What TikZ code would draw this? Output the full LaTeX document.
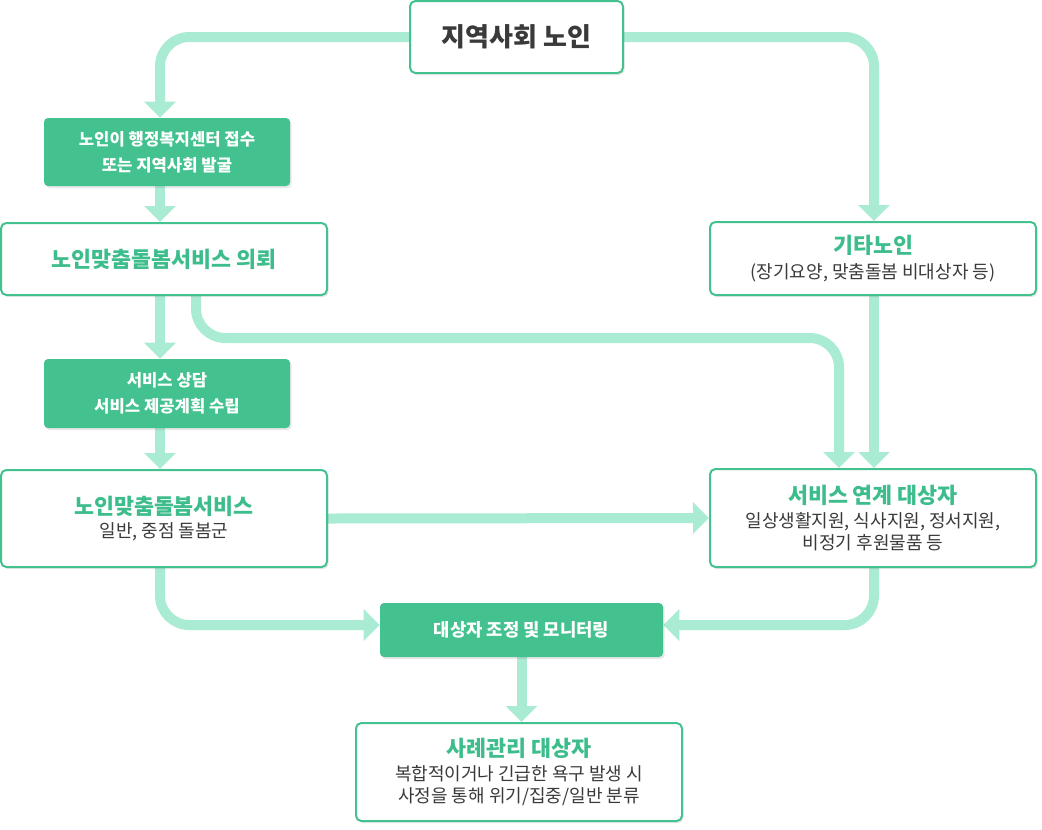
\documentclass[tikz,border=0pt]{standalone}
\usepackage{fontspec}
\setmainfont{Noto Sans CJK KR}
\usetikzlibrary{arrows.meta,shadows,backgrounds}

\definecolor{boxgreen}{HTML}{43C18F}
\definecolor{flowgreen}{HTML}{A9EBD3}
\definecolor{headgreen}{HTML}{3DBD8B}
\definecolor{bodygray}{HTML}{3A3A3A}

\tikzset{
  whitebox/.style={draw=boxgreen, line width=1.5pt, fill=white, rounded corners=4pt,
    align=center, inner sep=0pt, text=bodygray, font=\fontsize{13.5}{16.5}\selectfont,
    drop shadow={shadow xshift=1.2pt, shadow yshift=-1.5pt, opacity=0.18}},
  greenbox/.style={fill=boxgreen, rounded corners=3pt, align=center, inner sep=0pt,
    text=white, font=\fontsize{12.5}{19.5}\selectfont\bfseries,
    drop shadow={shadow xshift=1.2pt, shadow yshift=-1.5pt, opacity=0.18}},
  flow/.style={draw=flowgreen, line width=7.5pt, rounded corners=22pt,
    -{Triangle[width=23pt,length=12pt]}},
  head/.style={font=\fontsize{16.3}{19.5}\selectfont\bfseries, text=headgreen}
}
\newcommand{\boxhead}[1]{{\fontsize{16.3}{16.3}\selectfont\bfseries\color{headgreen}#1}}

\begin{document}
\begin{tikzpicture}[x=0.75pt,y=-0.75pt]
  \useasboundingbox (0,0) rectangle (1042,829);

  % boxes
  \node[whitebox, minimum width=159.75pt, minimum height=54pt,
        font=\fontsize{19.5}{21}\selectfont\bfseries] (elder) at (516.5,37) {지역사회 노인};
  \node[greenbox, minimum width=184.5pt, minimum height=51pt] (intake) at (167,152)
        {노인이 행정복지센터 접수\\또는 지역사회 발굴};
  \node[whitebox, minimum width=244.5pt, minimum height=54pt, head] (refer) at (164,259)
        {노인맞춤돌봄서비스 의뢰};
  \node[greenbox, minimum width=184.5pt, minimum height=51.75pt] (consult) at (167,393.5)
        {서비스 상담\\서비스 제공계획 수립};
  \node[whitebox, minimum width=244.5pt, minimum height=72.75pt] (care) at (164,518.5)
        {\boxhead{노인맞춤돌봄서비스}\\[1pt]
         일반, 중점 돌봄군};
  \node[whitebox, minimum width=244.5pt, minimum height=54.75pt] (other) at (873,258.5)
        {\boxhead{기타노인}\\[2pt]
         (장기요양, 맞춤돌봄 비대상자 등)};
  \node[whitebox, minimum width=244.5pt, minimum height=73.5pt] (link) at (873,518)
        {\boxhead{서비스 연계 대상자}\\[1pt]
         일상생활지원, 식사지원, 정서지원,\\비정기 후원물품 등};
  \node[greenbox, minimum width=212.25pt, minimum height=40.5pt,
        font=\fontsize{13.3}{15}\selectfont\bfseries] (monitor) at (521.5,630)
        {대상자 조정 및 모니터링};
  \node[whitebox, minimum width=244.5pt, minimum height=73.5pt] (case) at (519,772)
        {\boxhead{사례관리 대상자}\\[1pt]
         복합적이거나 긴급한 욕구 발생 시\\사정을 통해 위기/집중/일반 분류};

  % columns of the connectors
  \coordinate (lcol) at (160,0);
  \coordinate (rcol) at (874,0);
  \coordinate (icol) at (839,0);
  \coordinate (bend) at (196,338);

  \begin{scope}[on background layer]
    \draw[flow] (elder.west) -| (intake.north -| lcol);
    \draw[flow] (elder.east) -| (other.north -| rcol);
    \draw[flow] (intake.south -| lcol) -- (refer.north -| lcol);
    \draw[flow] (refer.south -| lcol) -- (consult.north -| lcol);
    \draw[flow] (refer.south -| bend) -- (bend) -| (link.north -| icol);
    \draw[flow] (other.south -| rcol) -- (link.north -| rcol);
    \draw[flow] (consult.south -| lcol) -- (care.north -| lcol);
    \draw[flow] (care.east) -- (link.west);
    \draw[flow] (care.south -| lcol) |- ([yshift=3.75pt]monitor.west);
    \draw[flow] (link.south -| rcol) |- ([yshift=3.75pt]monitor.east);
    \draw[flow] (monitor.south) -- (monitor.south |- case.north);
  \end{scope}
\end{tikzpicture}
\end{document}
